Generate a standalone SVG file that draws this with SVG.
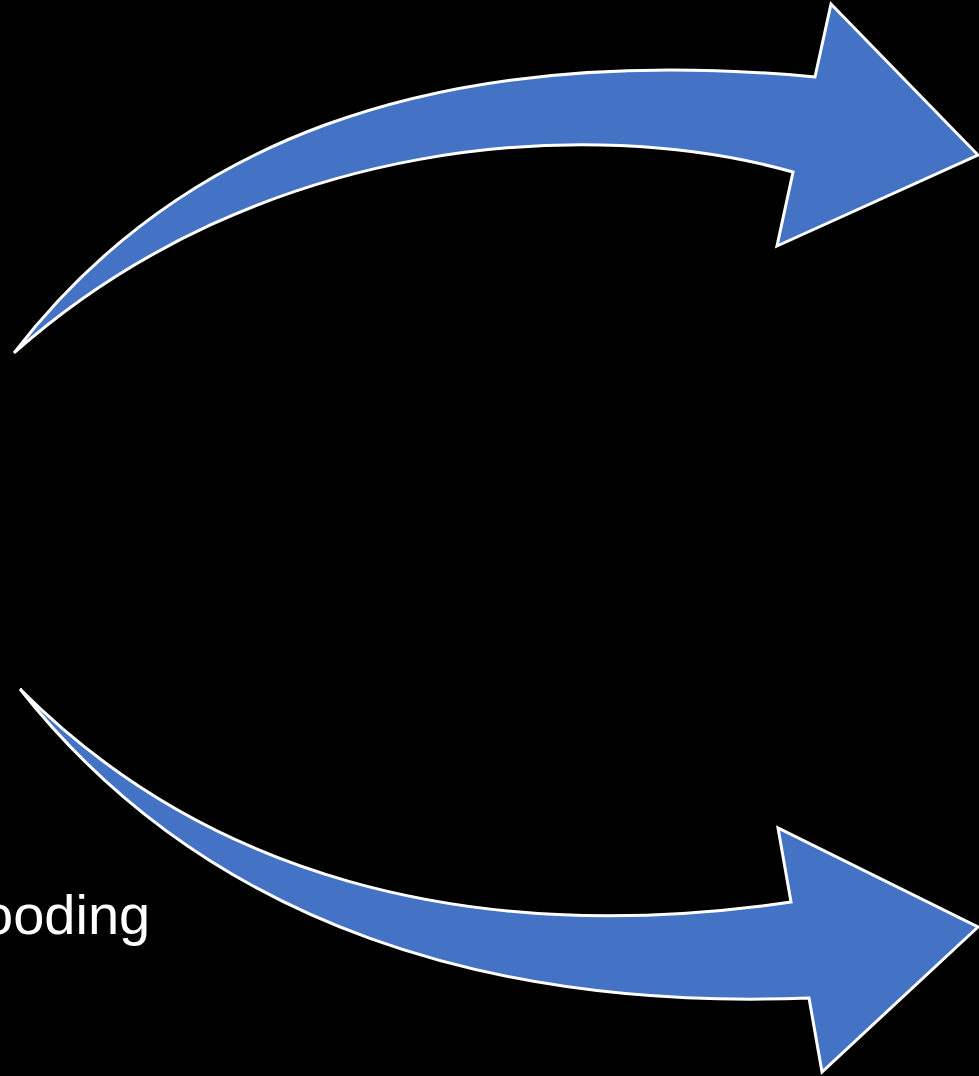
<svg xmlns="http://www.w3.org/2000/svg" width="979" height="1076" viewBox="0 0 979 1076">
<style>
.arrow{fill:#4472C4;stroke:#FFFFFF;stroke-width:3;stroke-linejoin:miter}
.lbl{font-family:"Liberation Sans",Arial,sans-serif;font-size:56px;fill:#FFFFFF}
</style>
<rect width="979" height="1076" fill="#000000"/>
<g id="connectors">
<path id="arrow-top" class="arrow" d="M14,353 C170,150 420,40 815,77 L831,4 L978,155 L777,246 L793,172 C590,115 260,135 14,353 Z"/>
<path id="arrow-bottom" class="arrow" d="M20,689 C200,870 460,950 791,902 L778,828 L978,927 L822,1072 L809,998 C500,1010 210,930 20,689 Z"/>
</g>
<g id="label">
<text class="lbl" x="-18" y="934">ooding</text>
</g>
</svg>
